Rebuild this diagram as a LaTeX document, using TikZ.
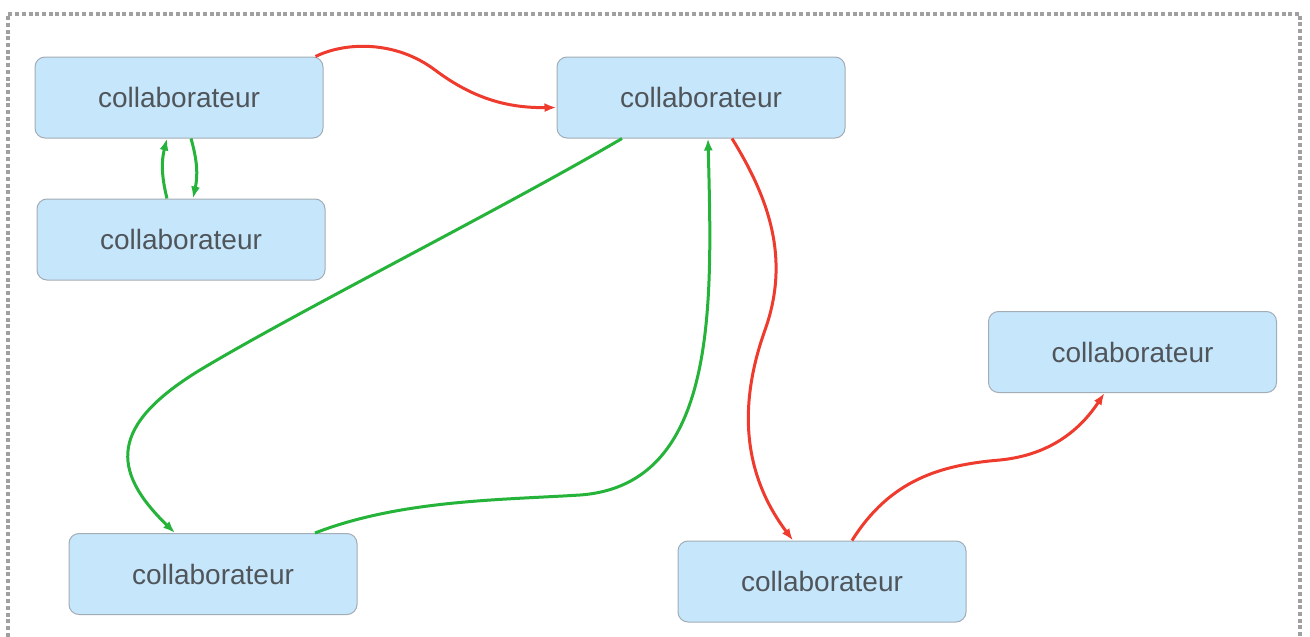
\documentclass[tikz,border=0pt]{standalone}
\usepackage{fontspec}
\setmainfont{Liberation Sans}
\usetikzlibrary{arrows.meta,calc}
\definecolor{boxfill}{HTML}{C6E6FC}
\definecolor{boxline}{HTML}{A3ADB5}
\definecolor{txt}{HTML}{50555A}
\definecolor{ered}{HTML}{EE3B2E}
\definecolor{egreen}{HTML}{25B33A}
\definecolor{frame}{HTML}{A0A0A0}
\tikzset{
  collab/.style={draw=boxline, line width=1pt, fill=boxfill, rounded corners=10pt,
    minimum width=288pt, minimum height=81pt, inner sep=0pt, text=txt,
    font=\fontsize{28}{32}\selectfont},
  redarrow/.style={draw=ered, line width=3pt, -{Latex[length=12pt,width=9pt]}},
  greenarrow/.style={draw=egreen, line width=3pt, -{Latex[length=12pt,width=9pt]}},
}
\begin{document}
\begin{tikzpicture}[x=1pt,y=-1pt]
\useasboundingbox (0,0) rectangle (1310,637);
\fill[white] (0,0) rectangle (1310,637);
\draw[frame, line width=3.2pt, dash pattern=on 4pt off 2.7pt]
  (8,650) -- (8,14) -- (1300,14) -- (1300,650);

\node[collab] (A) at (179,97.5) {collaborateur};
\node[collab] (B) at (181,239.5) {collaborateur};
\node[collab] (C) at (701,97.5) {collaborateur};
\node[collab] (D) at (1132.5,352) {collaborateur};
\node[collab] (E) at (213,574) {collaborateur};
\node[collab] (F) at (822,581.5) {collaborateur};

% A -> C (red)
\draw[redarrow] ([xshift=-8pt]A.north east) .. controls (345,42) and (395,40) .. (435,70)
  .. controls (475,100) and (510,108) .. ([yshift=-10pt]C.west);
% B <-> A (green)
\draw[greenarrow] ([xshift=-14pt]B.north) to[bend left=14] ([xshift=-12pt]A.south);
\draw[greenarrow] ([xshift=12pt]A.south) to[bend left=14] ([xshift=12pt]B.north);
% C -> E (green)
\draw[greenarrow] ([xshift=-79pt]C.south) .. controls (500,210) and (300,310) .. (200,370)
  .. controls (110,425) and (110,470) .. ([xshift=-38pt]E.north);
% E -> C (green)
\draw[greenarrow] ([xshift=102pt]E.north) .. controls (400,500) and (500,500) .. (580,495)
  .. controls (720,485) and (712,300) .. ([xshift=7pt]C.south);
% C -> F (red)
\draw[redarrow] ([xshift=31pt]C.south) .. controls (770,200) and (790,260) .. (765,330)
  .. controls (740,400) and (740,470) .. ([xshift=-29pt]F.north);
% F -> D (red)
\draw[redarrow] ([xshift=30pt]F.north) .. controls (890,480) and (940,465) .. (1000,460)
  .. controls (1050,455) and (1080,430) .. ([xshift=-28pt]D.south);
\end{tikzpicture}
\end{document}
